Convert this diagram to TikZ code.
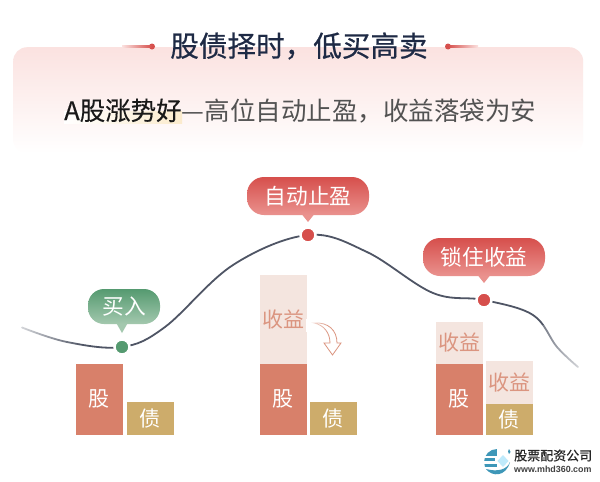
\documentclass[tikz,border=0pt]{standalone}
\usepackage{fontspec}
\setmainfont{Noto Sans CJK SC}
\newfontfamily\semib[FakeBold=0.6]{Noto Sans CJK SC}
\newfontfamily\semic[FakeBold=0.25]{Noto Sans CJK SC}
\newfontfamily\latinb{Liberation Sans}
\usetikzlibrary{fadings,shapes.geometric}
\definecolor{stock}{HTML}{D8806A}
\definecolor{bond}{HTML}{CDAC6B}
\definecolor{gain}{HTML}{F4E5DF}
\definecolor{gaintxt}{HTML}{DB9580}
\definecolor{curve}{HTML}{4F5565}
\definecolor{redd}{HTML}{D64F4C}
\definecolor{redl}{HTML}{EA928E}
\definecolor{greend}{HTML}{559A70}
\definecolor{greenl}{HTML}{A3C8AE}
\definecolor{titlec}{HTML}{1E2A45}
\definecolor{panelc}{HTML}{FBE2E0}
\definecolor{hilite}{HTML}{FBEBCD}
\definecolor{logoc}{HTML}{3E97B8}
\newcommand{\fs}[1]{\fontsize{#1}{#1}\selectfont}
\tikzset{
  barbox/.style={minimum width=46.5pt,inner sep=0pt,outer sep=0pt,anchor=north west,font=\fs{21}},
  stockbar/.style={barbox,fill=stock,text=white},
  bondbar/.style={barbox,fill=bond,text=white},
  gainbar/.style={barbox,fill=gain,text=gaintxt},
  redbub/.style={rounded corners=17pt,top color=redd,bottom color=redl,text=white,inner sep=0pt,font=\fs{21.7},minimum height=38pt,minimum width=122pt},
  greenbub/.style={rounded corners=16pt,top color=greend,bottom color=greenl,text=white,inner sep=0pt,font=\fs{21.7},minimum height=35pt,minimum width=72pt},
  dotmark/.style={circle,draw=white,line width=2.5pt,inner sep=0pt,minimum size=15pt},
}
\begin{document}
\begin{tikzpicture}[x=1pt,y=-1pt]
\useasboundingbox (0,0) rectangle (600,482);
\fill[white] (0,0) rectangle (600,482);
% panel
\node[rounded corners=14pt,top color=panelc,bottom color=white,minimum width=570pt,minimum height=106pt,inner sep=0pt,anchor=north west] (panel) at (13,47) {};
% title
\node[text=titlec,font=\semib\fs{28.6}] (title) at (299,46) {股债择时，低买高卖};
\node[circle,fill=redd,inner sep=0pt,minimum size=6pt] (dl) at (152,46.5) {};
\node[circle,fill=redd,inner sep=0pt,minimum size=6pt] (dr) at (448,46.5) {};
\shade[left color=panelc,right color=redd] (122,45.9) rectangle (152,47.1);
\shade[right color=panelc,left color=redd] (448,45.9) rectangle (478,47.1);
% highlight
\shade[left color=white,right color=hilite] (64,111) rectangle (182,123);
% subtitle
\node[font=\fs{25.5},text=black!68,anchor=base west,inner sep=0pt] (sub) at (64,120) {{\semic\color{black!90}A股涨势好}—高位自动止盈，收益落袋为安};
% curve
\coordinate (c0) at (22,327.5);
\coordinate (c1) at (67,342);
\coordinate (c2) at (122,347);
\coordinate (c3) at (165,327);
\coordinate (c5) at (233,265);
\coordinate (c7) at (308,235);
\coordinate (c9) at (367,252);
\coordinate (c11) at (433,293);
\coordinate (c12) at (484,300);
\coordinate (c14) at (533,315);
\coordinate (c15) at (557,347);
\coordinate (c16) at (578,367);
\draw[curve,line width=1.8pt,line cap=round] plot[smooth,tension=0.6] coordinates {(c0) (c1) (c2) (c3) (c5) (c7) (c9) (c11) (c12) (c14) (c15) (c16)};
\fill[white,path fading=east] (2,315) rectangle (82,345);
\fill[white,path fading=west] (526,325) rectangle (596,375);
% dots
\node[dotmark,fill=greend] (buy) at (c2) {};
\node[dotmark,fill=redd] (peak) at (c7) {};
\node[dotmark,fill=redd] (lock) at (c12) {};
% bubbles
\fill[greenl] (116,322.5) -- (122,333) -- (128,322.5) -- cycle;
\fill[redl] (302,214.5) -- (308,222) -- (314,214.5) -- cycle;
\fill[redl] (478,275.5) -- (484,283) -- (490,275.5) -- cycle;
\node[greenbub] (b1) at (124,306.5) {买入};
\node[redbub] (b2) at (308,196) {自动止盈};
\node[redbub] (b3) at (484,257) {锁住收益};
% bars
\node[stockbar,minimum height=70.5pt] (s1) at (76,364) {股};
\node[bondbar,minimum height=32.5pt] (z1) at (127,402) {债};
\node[gainbar,minimum height=89pt] (g2) at (260,275) {收益};
\node[stockbar,minimum height=70.5pt] (s2) at (260,364) {股};
\node[bondbar,minimum height=32.5pt] (z2) at (310,402) {债};
\node[gainbar,minimum height=42pt] (g3) at (436,322) {收益};
\node[stockbar,minimum height=70.5pt] (s3) at (436,364) {股};
\node[gainbar,minimum height=43pt] (g4) at (486,361) {收益};
\node[bondbar,minimum height=30.5pt] (z3) at (486,404) {债};
% arrow
\draw[draw=gaintxt,fill=white,line width=.8pt,line join=miter] (314,323) .. controls (328,322) and (337,330) .. (337,343) -- (341,343) -- (332.5,355) -- (324,343) -- (330,343) .. controls (330,333) and (324,325) .. (314,323) -- cycle;
\fill[white,path fading=east] (306,319) rectangle (328,332);
% logo
\begin{scope}
\clip (497,462) circle (13pt);
\fill[logoc] (484,449) rectangle (497,455.5);
\fill[logoc] (484,458) rectangle (495,461);
\fill[logoc] (484,463.5) rectangle (497,467);
\end{scope}
\fill[logoc] (486,469) .. controls (492,477) and (506,477) .. (510,462) .. controls (507,470) and (497,472) .. (486,469) -- cycle;
\fill[cyan!25!white] (503,455) -- (508.5,461) -- (503,467) -- (497.5,461) -- cycle;
\fill[logoc] (509,449) -- (510.5,452) -- (509,454) -- (508,451.5) -- cycle;
\node[font=\semib\fs{13},text=black!85,anchor=west,inner sep=0pt] (lg1) at (514,455.5) {股票配资公司};
\node[font=\latinb\fs{8.9}\bfseries,text=black!75,anchor=west,inner sep=0pt] (lg2) at (514,469) {www.mhd360.com};
\end{tikzpicture}
\end{document}
